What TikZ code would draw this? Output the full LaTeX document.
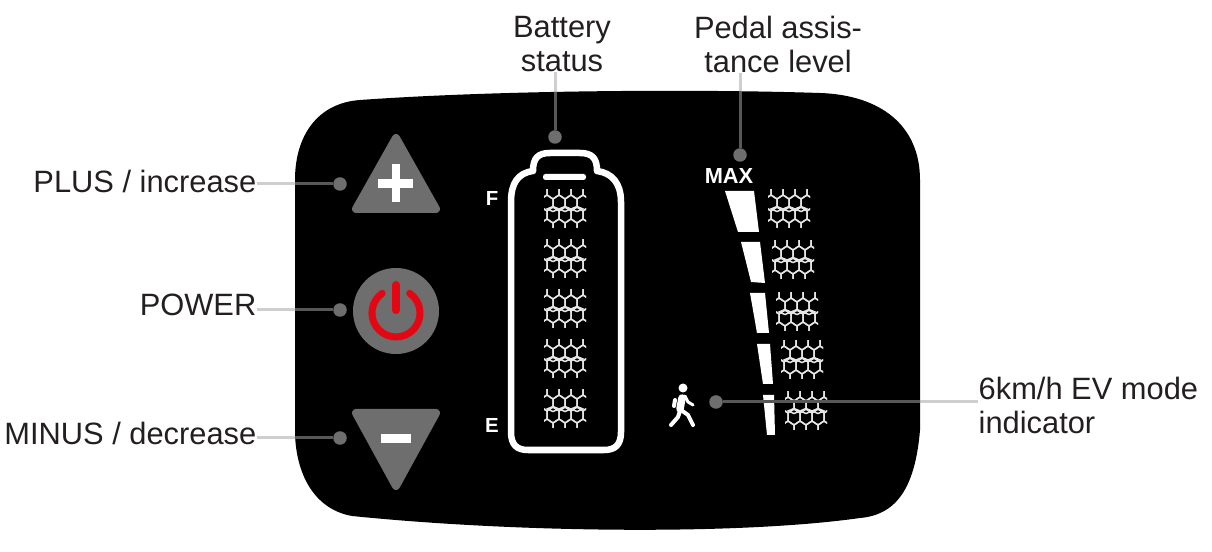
\documentclass[tikz,border=0pt]{standalone}
\usepackage{fontspec}
\setmainfont{Liberation Sans}
\usepackage{tikz}
\usetikzlibrary{positioning}
\definecolor{dispgrey}{HTML}{6E6E6E}
\definecolor{leadgrey}{HTML}{CFCFCF}
\definecolor{powred}{HTML}{E30613}
\definecolor{lblink}{HTML}{231F20}
\newcommand{\bodyoutline}{(360,100) .. controls (500,90) and (700,89) .. (820,93)
    .. controls (880,95) and (920,125) .. (920,180)
    -- (920,430) .. controls (915,490) and (895,515) .. (860,518)
    .. controls (740,535) and (520,533) .. (352,516)
    .. controls (318,510) and (297,480) .. (295,435)
    -- (295,180) .. controls (295,135) and (318,103) .. (360,100) -- cycle}
\begin{document}
\begin{tikzpicture}[x=0.01cm,y=-0.01cm,
  lbl/.style={font=\fontsize{8.77}{9.67}\selectfont,text=lblink,inner sep=0pt,align=center},
  lettr/.style={font=\bfseries\fontsize{5.8}{6}\selectfont,text=white,inner sep=0pt},
  dotm/.style={circle,fill=dispgrey,inner sep=0pt,minimum size=0.135cm},
  lead/.style={draw=leadgrey,line width=0.03cm},
  leadin/.style={draw=dispgrey!115,line width=0.03cm},
  btn/.style={fill=dispgrey,draw=dispgrey,line width=0.08cm,line join=round},
  glyph/.style={fill=white,draw=none},
  bar/.style={fill=white,draw=none},
  walk/.style={white,line cap=round,line join=round},
  mesh/.pic={
    \begin{scope}
      \clip (-21,-19) rectangle (21,19);
      \foreach \r in {-2,...,1}{
        \foreach \c in {-3,...,2}{
          \pgfmathsetmacro{\cx}{\c*12+(mod(\r+4,2)*6)}
          \pgfmathsetmacro{\cy}{\r*12+6}
          \draw[white!90!black,line width=0.015cm] (\cx,\cy-8) -- (\cx+6,\cy-4) -- (\cx+6,\cy+4) -- (\cx,\cy+8) -- (\cx-6,\cy+4) -- (\cx-6,\cy-4) -- cycle;
        }
      }
      \foreach \c in {-12,0,12}
        \draw[white!90!black,line width=0.015cm] (\c-6,0) -- (\c,-2.5) -- (\c+6,0) -- (\c,2.5) -- cycle;
    \end{scope}
  }]
  \useasboundingbox (0,0) rectangle (1212,552);
  % display body
  \fill[black] \bodyoutline;
  % buttons
  \path[btn] (396,138) -- (356,209) -- (436,209) -- cycle;
  \fill[glyph] (378,179) rectangle (413,188);
  \fill[glyph] (392,164) rectangle (400,202);
  \fill[dispgrey] (396,311) circle[radius=43];
  \draw[powred,line width=0.07cm,line cap=round] (382.2,293.3) arc[start angle=-125,end angle=-415,radius=24];
  \draw[powred,line width=0.08cm,line cap=round] (396,285) -- (396,310);
  \path[btn] (356,413) -- (436,413) -- (396,486) -- cycle;
  \fill[glyph] (381,434) rectangle (411,443);
  % battery
  \draw[white,line width=0.065cm,line join=round] (556,153) -- (580,153)
    .. controls (592,153) and (597,158) .. (597,171)
    .. controls (612,173) and (621,183) .. (621,202)
    -- (621,432) .. controls (621,445) and (615,450) .. (604,450)
    -- (528,450) .. controls (517,450) and (511,445) .. (511,432)
    -- (511,202) .. controls (511,183) and (518,173) .. (533,171)
    .. controls (533,158) and (538,153) .. (550,153) -- cycle;
  \fill[white,rounded corners=0.025cm] (543,174) rectangle (586,180);
  \node[lettr] (markf) at (492,198) {F};
  \node[lettr] (marke) at (492,425) {E};
  \foreach \yy in {209,259,309,359,409}
    \pic at (565,\yy) {mesh};
  % assistance level
  \node[lettr,font=\bfseries\fontsize{6.2}{7}\selectfont] (markmax) at (729,176) {MAX};
  \fill[bar] (725,191) -- (754,191) -- (759,232) -- (738,232) -- cycle;
  \fill[bar] (741,242) -- (760,242) -- (765,283) -- (751,282) -- cycle;
  \fill[bar] (750,293) -- (765,293) -- (769,333) -- (757,333) -- cycle;
  \fill[bar] (757,344) -- (770,344) -- (773,384) -- (763,384) -- cycle;
  \fill[bar] (763,395) -- (774,395) -- (775,435) -- (767,435) -- cycle;
  \foreach \xx/\yy in {789/209,793/260,797/312,802/360,806/411}
    \pic at (\xx,\yy) {mesh};
  % walker
  \fill[white] (683,388) circle[radius=4.5];
  \draw[walk,line width=0.075cm] (682,398) -- (680,409);
  \draw[walk,line width=0.04cm] (680,411) -- (678,417) -- (671,425);
  \draw[walk,line width=0.04cm] (681,410) -- (688,415) -- (693,425);
  \draw[walk,line width=0.03cm] (685,396) -- (688,402) -- (693,405);
  \draw[walk,line width=0.04cm] (675,400) -- (674,406);
  % labels and leads
  \node[lbl,anchor=east] (lblplus) at (257,181) {PLUS / increase};
  \node[lbl,anchor=east] (lblpower) at (257,305) {POWER};
  \node[lbl,anchor=east] (lblminus) at (257,433) {MINUS / decrease};
  \node[lbl] (lblbatt) at (562,44) {Battery\\status};
  \node[lbl] (lblpedal) at (778,44) {Pedal assis-\\tance level};
  \node[lbl,anchor=west,align=left] (lblev) at (978,405) {6km/h EV mode\\indicator};
  \node[dotm] (dotplus) at (340,184) {};
  \node[dotm] (dotpower) at (340,310) {};
  \node[dotm] (dotminus) at (340,438) {};
  \node[dotm] (dotbatt) at (555,137) {};
  \node[dotm] (dotpedal) at (740,155) {};
  \node[dotm] (dotev) at (716,402) {};
  \draw[lead] (lblplus.east |- dotplus) -- (dotplus);
  \draw[lead] (lblpower.east |- dotpower) -- (dotpower);
  \draw[lead] (lblminus.east |- dotminus) -- (dotminus);
  \draw[lead] (lblbatt.south -| dotbatt) -- (dotbatt);
  \draw[lead] (lblpedal.south -| dotpedal) -- (dotpedal);
  \draw[lead] (dotev) -- (dotev -| lblev.west);
  % darker inside the body
  \begin{scope}
    \clip \bodyoutline;
    \draw[leadin] (lblplus.east |- dotplus) -- (dotplus);
    \draw[leadin] (lblpower.east |- dotpower) -- (dotpower);
    \draw[leadin] (lblminus.east |- dotminus) -- (dotminus);
    \draw[leadin] (lblbatt.south -| dotbatt) -- (dotbatt);
    \draw[leadin] (lblpedal.south -| dotpedal) -- (dotpedal);
    \draw[leadin] (dotev) -- (dotev -| lblev.west);
  \end{scope}
\end{tikzpicture}
\end{document}
